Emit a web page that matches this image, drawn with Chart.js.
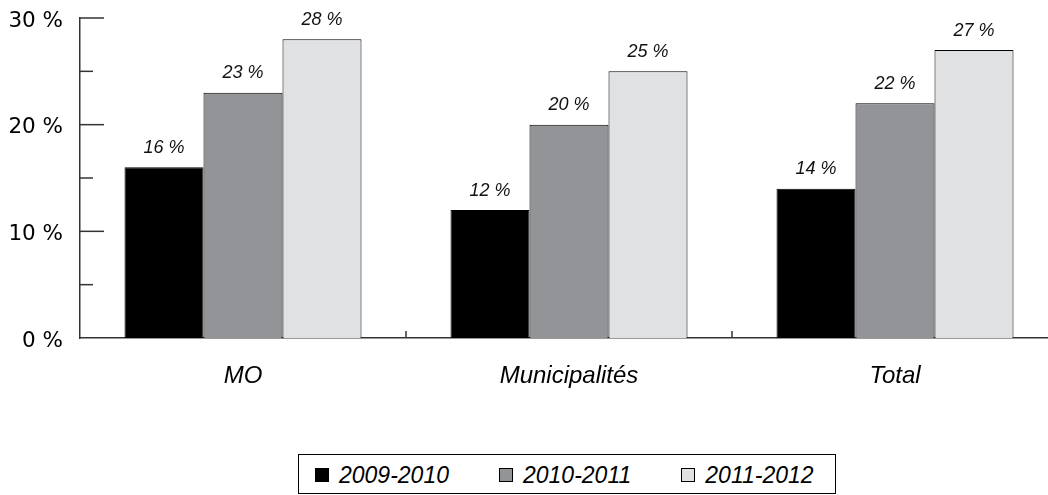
<!DOCTYPE html>
<html>
<head>
<meta charset="utf-8">
<script src="https://cdn.jsdelivr.net/npm/chart.js@4"></script>
<style>
  html, body { margin: 0; padding: 0; overflow: hidden; background: #fff; width: 1048px; height: 495px; }
  #wrap { position: relative; width: 1048px; height: 495px; overflow: hidden; }
  #c { position: absolute; left: 0; top: 0; }
  #legend {
    position: absolute; left: 298px; top: 454px; width: 538px; height: 40px;
    box-sizing: border-box; border: 1.5px solid #000; background: #fff;
    display: flex; align-items: center; padding-left: 16px; padding-top: 2px;
    font: italic 23px "Liberation Sans", Arial, sans-serif; color: #000;
  }
  .item { display: flex; align-items: center; margin-right: 50px; white-space: nowrap; }
  .sw { width: 14px; height: 14px; box-sizing: border-box; border: 1px solid #000; margin-right: 10px; }
</style>
</head>
<body>
<div id="wrap">
  <canvas id="c" width="1060" height="495"></canvas>
  <div id="legend"></div>
</div>
<script>
// Share of respondents per group and school year
const categories = ['MO', 'Municipalités', 'Total'];
const seriesNames = ['2009-2010', '2010-2011', '2011-2012'];
const values2009 = [16, 12, 14];
const values2010 = [23, 20, 22];
const values2011 = [28, 25, 27];
const yTickLabels = ['0 %', '10 %', '20 %', '30 %'];

const seriesColors = ['#000000', '#939498', '#e0e1e3'];
const axisColor = '#333333';

// Inward tick marks on the value axis and separators between categories
const axisMarks = {
  id: 'axisMarks',
  afterDraw(chart) {
    const { ctx, chartArea, scales: { x, y } } = chart;
    ctx.save();
    ctx.strokeStyle = axisColor;
    ctx.lineWidth = 1.5;
    y.ticks.forEach(t => {
      if (t.value === 0) return;
      const py = y.getPixelForValue(t.value);
      const len = t.value % 10 === 0 ? 24 : 13;
      ctx.beginPath();
      ctx.moveTo(chartArea.left, py);
      ctx.lineTo(chartArea.left + len, py);
      ctx.stroke();
    });
    for (let i = 1; i < categories.length; i++) {
      const px = (x.getPixelForTick(i - 1) + x.getPixelForTick(i)) / 2;
      ctx.beginPath();
      ctx.moveTo(px, chartArea.bottom);
      ctx.lineTo(px, chartArea.bottom - 7);
      ctx.stroke();
    }
    ctx.restore();
  }
};

// Percentage written above each bar
const valueLabels = {
  id: 'valueLabels',
  afterDatasetsDraw(chart) {
    const { ctx } = chart;
    ctx.save();
    ctx.font = 'italic 18px "Liberation Sans", Arial, sans-serif';
    ctx.fillStyle = '#111';
    ctx.textAlign = 'center';
    ctx.textBaseline = 'alphabetic';
    chart.data.datasets.forEach((ds, i) => {
      chart.getDatasetMeta(i).data.forEach((bar, j) => {
        ctx.fillText(ds.data[j] + ' %', bar.x, bar.y - 14.5);
      });
    });
    ctx.restore();
  }
};

const seriesValues = [values2009, values2010, values2011];

new Chart(document.getElementById('c'), {
  type: 'bar',
  data: {
    labels: categories,
    datasets: seriesNames.map((name, i) => ({
      label: name,
      data: seriesValues[i],
      backgroundColor: seriesColors[i],
      borderColor: '#000',
      borderWidth: 1,
      categoryPercentage: 0.727,
      barPercentage: 1
    }))
  },
  options: {
    responsive: false,
    animation: false,
    layout: { padding: { top: 18, right: 2, left: 0, bottom: 0 } },
    plugins: { legend: { display: false }, tooltip: { enabled: false } },
    scales: {
      x: {
        grid: { display: false, drawTicks: false },
        border: { display: true, color: axisColor, width: 1.5 },
        ticks: {
          padding: 24,
          color: '#000',
          font: { family: '"Liberation Sans", Arial, sans-serif', size: 24, style: 'italic' }
        },
        afterFit(scale) {
          scale.height = 157;
          scale.paddingLeft = 0;
          scale.paddingRight = 0;
        }
      },
      y: {
        min: 0,
        max: 30,
        grid: { display: false, drawTicks: false },
        border: { display: true, color: axisColor, width: 1.5 },
        ticks: {
          stepSize: 5,
          padding: 17,
          labelOffset: 3,
          color: '#000',
          font: { family: '"DejaVu Sans", Verdana, sans-serif', size: 21.5 },
          callback: v => (v % 10 === 0 ? yTickLabels[v / 10] : '')
        },
        afterFit(scale) {
          scale.width = 80;
          scale.paddingTop = 0;
          scale.paddingBottom = 0;
        }
      }
    }
  },
  plugins: [axisMarks, valueLabels]
});

// Legend box below the chart
const legend = document.getElementById('legend');
seriesNames.forEach((name, i) => {
  const item = document.createElement('span');
  item.className = 'item';
  const sw = document.createElement('span');
  sw.className = 'sw';
  sw.style.background = seriesColors[i];
  const txt = document.createElement('span');
  txt.textContent = name;
  item.appendChild(sw);
  item.appendChild(txt);
  legend.appendChild(item);
});
</script>
</body>
</html>
